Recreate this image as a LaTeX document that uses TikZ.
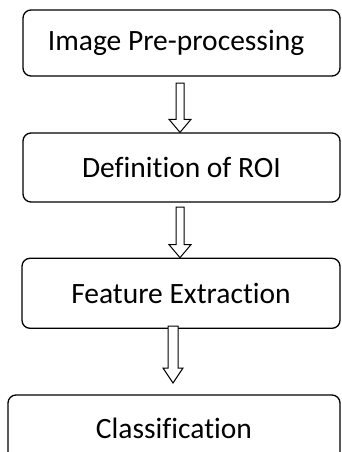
\documentclass[tikz,border=0pt]{standalone}
\usepackage{fontspec}
\setmainfont[Ligatures={NoCommon}]{Carlito}
\usetikzlibrary{calc}
\tikzset{
  box/.style={draw, line width=1.3pt, rounded corners=8pt, inner sep=0pt,
    font=\fontsize{29.5}{33}\selectfont},
  arr/.style={draw, line width=1pt, fill=white, line join=miter},
}
\newcommand\hollowdown[5]{%
  \draw[arr] ([xshift=-#3pt]#1) -- ([xshift=-#3pt,yshift=#5pt]#2)
    -- ([xshift=-#4pt,yshift=#5pt]#2) -- (#2)
    -- ([xshift=#4pt,yshift=#5pt]#2) -- ([xshift=#3pt,yshift=#5pt]#2)
    -- ([xshift=#3pt]#1) -- cycle;}
\begin{document}
\begin{tikzpicture}[x=1pt,y=-1pt]
  \useasboundingbox (0,0) rectangle (341,452);
  \node[box, minimum width=317pt, minimum height=66pt] (b1) at (181.5,43)
    {Image Pre-processing\kern11pt};
  \node[box, minimum width=317pt, minimum height=69pt] (b2) at (181.5,167.5)
    {Definition of ROI};
  \node[box, minimum width=318pt, minimum height=70pt] (b3) at (181,293.3)
    {Feature Extraction};
  \node[box, minimum width=332pt, minimum height=66pt] (b4) at (174,428)
    {Classification};
  \coordinate (t1) at (180,83);
  \coordinate (t2) at (180,207);
  \coordinate (t3) at (173,326);
  \coordinate (h3) at (173,383);
  \hollowdown{t1}{t1 |- b2.north}{4}{11}{13}
  \hollowdown{t2}{t2 |- b3.north}{4}{11}{13}
  \hollowdown{t3}{h3}{5}{10}{15}
\end{tikzpicture}
\end{document}
